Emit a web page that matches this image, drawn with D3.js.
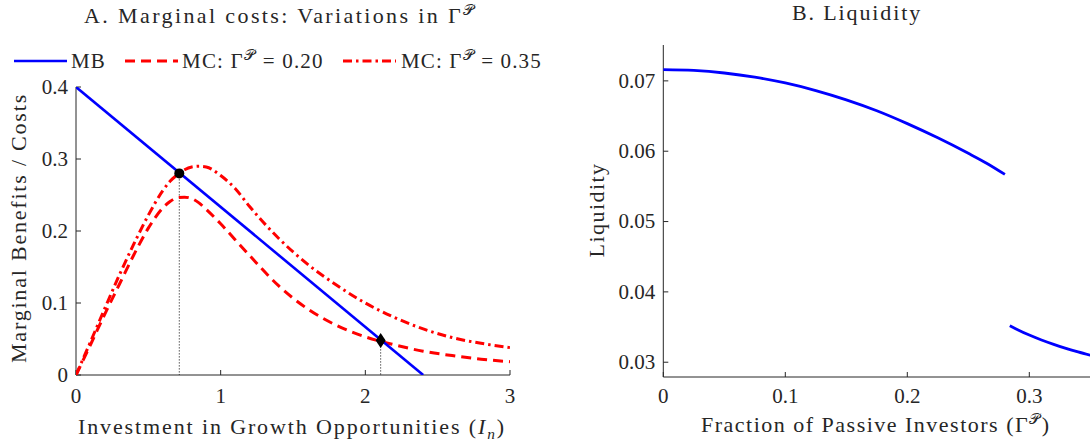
<!DOCTYPE html>
<html>
<head>
<meta charset="utf-8">
<script src="https://cdn.jsdelivr.net/npm/d3@7"></script>
<style>
  body { margin: 0; background: #fff; }
  svg text { font-family: "Liberation Serif", "DejaVu Serif", serif; fill: #262626; }
</style>
</head>
<body>
<script>
// ---- panel A: marginal benefits / costs ----
var invest = [0, 0.1, 0.2, 0.3, 0.4, 0.5, 0.6, 0.65, 0.7, 0.75, 0.8, 0.85, 0.9, 1.0, 1.1, 1.2, 1.4, 1.6, 1.8, 2.0, 2.2, 2.4, 2.6, 2.8, 3.0];
var mcLow  = [0, 0.042, 0.085, 0.126, 0.167, 0.204, 0.232, 0.241, 0.246, 0.247, 0.245, 0.239, 0.230, 0.210, 0.188, 0.166, 0.124, 0.092, 0.069, 0.053, 0.042, 0.033, 0.027, 0.022, 0.0185];
var mcHigh = [0, 0.046, 0.093, 0.139, 0.182, 0.222, 0.256, 0.269, 0.278, 0.285, 0.289, 0.290, 0.289, 0.277, 0.259, 0.234, 0.190, 0.154, 0.125, 0.100, 0.080, 0.064, 0.052, 0.044, 0.038];
var mbX = [0, 2.4];
var mbY = [0.4, 0];
var eqX = [0.714, 2.106];
var eqY = [0.280, 0.048];
var ticksAx = [0, 1, 2, 3];
var ticksAy = [0, 0.1, 0.2, 0.3, 0.4];

// ---- panel B: liquidity ----
var gammaA = [0, 0.025, 0.05, 0.075, 0.1, 0.125, 0.15, 0.175, 0.2, 0.225, 0.25, 0.265, 0.28];
var liqA   = [0.0716, 0.07148, 0.07112, 0.07053, 0.0697, 0.06862, 0.0673, 0.06575, 0.06392, 0.0619, 0.0597, 0.0583, 0.0567];
var gammaB = [0.284, 0.29, 0.30, 0.31, 0.32, 0.33, 0.34, 0.35];
var liqB   = [0.0352, 0.03466, 0.03386, 0.03316, 0.03254, 0.03198, 0.03147, 0.031];
var ticksBx = [0, 0.1, 0.2, 0.3];
var ticksBy = [0.03, 0.04, 0.05, 0.06, 0.07];

var W = 1090, H = 445;
var FONT = '"Liberation Serif", "DejaVu Serif", serif';
var svg = d3.select("body").append("svg").attr("width", W).attr("height", H);

var xA = d3.scaleLinear().domain([0, 3]).range([76, 510]);
var yA = d3.scaleLinear().domain([0, 0.4]).range([375, 87]);
var xB = d3.scaleLinear().domain([0, 0.35]).range([663.3, 1090.3]);
var yB = d3.scaleLinear().domain([0.0279, 0.0751]).range([377, 45]);

var fmt = function (d) { return d === 0 ? "0" : String(+d.toFixed(2)); };

function drawAxes(x, y, tx, ty, padX) {
  var gx = svg.append("g").attr("transform", "translate(0," + y.range()[0] + ")")
    .call(d3.axisBottom(x).tickValues(tx).tickFormat(fmt).tickSizeInner(-5).tickSizeOuter(0).tickPadding(padX).offset(0));
  var gy = svg.append("g").attr("transform", "translate(" + x.range()[0] + ",0)")
    .call(d3.axisLeft(y).tickValues(ty).tickFormat(fmt).tickSizeInner(-5).tickSizeOuter(0).tickPadding(8).offset(0));
  [gx, gy].forEach(function (g) {
    g.attr("font-family", FONT).attr("font-size", 21);
    g.select(".domain").attr("stroke", "#262626");
    g.selectAll(".tick line").attr("stroke", "#262626");
    g.selectAll("text").attr("fill", "#262626");
  });
}
drawAxes(xA, yA, ticksAx, ticksAy, 13);
drawAxes(xB, yB, ticksBx, ticksBy, 11);

// clip regions
var defs = svg.append("defs");
defs.append("clipPath").attr("id", "clipA").append("rect")
  .attr("x", 76).attr("y", 87).attr("width", 434).attr("height", 288);
defs.append("clipPath").attr("id", "clipB").append("rect")
  .attr("x", 663).attr("y", 45).attr("width", 430).attr("height", 332);

function pairs(xs, ys) { return xs.map(function (v, i) { return [v, ys[i]]; }); }

var lineA = d3.line().x(function (d) { return xA(d[0]); }).y(function (d) { return yA(d[1]); }).curve(d3.curveMonotoneX);
var lineB = d3.line().x(function (d) { return xB(d[0]); }).y(function (d) { return yB(d[1]); }).curve(d3.curveMonotoneX);

var pA = svg.append("g").attr("clip-path", "url(#clipA)");

// dotted drop lines at the intersections
eqX.forEach(function (v, i) {
  pA.append("line").attr("x1", xA(v)).attr("x2", xA(v)).attr("y1", yA(eqY[i])).attr("y2", yA(0))
    .attr("stroke", "#000").attr("stroke-width", 1).attr("stroke-dasharray", "1,2");
});

pA.append("path").datum(pairs(invest, mcLow)).attr("d", lineA)
  .attr("fill", "none").attr("stroke", "#ff0000").attr("stroke-width", 3).attr("stroke-dasharray", "10,6");
pA.append("path").datum(pairs(invest, mcHigh)).attr("d", lineA)
  .attr("fill", "none").attr("stroke", "#ff0000").attr("stroke-width", 3).attr("stroke-dasharray", "9,4,2.5,4");
pA.append("path").datum(pairs(mbX, mbY)).attr("d", d3.line().x(function (d) { return xA(d[0]); }).y(function (d) { return yA(d[1]); }))
  .attr("fill", "none").attr("stroke", "#0000ff").attr("stroke-width", 2.6);

// markers
svg.append("circle").attr("cx", xA(eqX[0])).attr("cy", yA(eqY[0])).attr("r", 5).attr("fill", "#000");
svg.append("path").attr("transform", "translate(" + xA(eqX[1]) + "," + yA(eqY[1]) + ")")
  .attr("d", "M0,-7.5L5,0L0,7.5L-5,0Z").attr("fill", "#000");

var pB = svg.append("g").attr("clip-path", "url(#clipB)");
[[gammaA, liqA], [gammaB, liqB]].forEach(function (s) {
  pB.append("path").datum(pairs(s[0], s[1])).attr("d", lineB)
    .attr("fill", "none").attr("stroke", "#0000ff").attr("stroke-width", 2.8);
});

// ---- text helpers ----
// parts: [string, kind] where kind is "", "i" (italic), "sup", "sub", "after"
function label(x, y, parts, size, width, rotate, anchor) {
  var t = svg.append("text").attr("x", x).attr("y", y)
    .style("font-family", FONT).style("font-size", size + "px")
    .attr("text-anchor", anchor || "start");
  if (rotate) t.attr("transform", "rotate(-90," + x + "," + y + ")");
  parts.forEach(function (p) {
    var s = t.append("tspan").text(p[0]);
    if (p[1] === "i") s.style("font-style", "italic");
    if (p[1] === "sup") s.style("font-size", (size * 0.7) + "px").attr("dy", -size * 0.38);
    if (p[1] === "sub") s.style("font-size", (size * 0.7) + "px").style("font-style", "italic").attr("dy", size * 0.22);
    if (p[1] === "after") s.attr("dy", p[2]);
  });
  if (width) {
    var n = parts.reduce(function (a, p) { return a + p[0].length; }, 0);
    var cur = t.node().getComputedTextLength();
    t.style("letter-spacing", ((width - cur) / n) + "px");
  }
  return t;
}

var P = "\uD835\uDCAB"; // script capital P

label(84, 23, [["A. Marginal costs: Variations in \u0393", ""], [P, "sup"]], 22, 395);
label(792, 20, [["B. Liquidity", ""]], 22, 130);

label(78, 434, [["Investment in Growth Opportunities (", ""], ["I", "i"], ["n", "sub"], [")", "after", -22 * 0.22]], 22, 428);
label(701, 432, [["Fraction of Passive Investors (\u0393", ""], [P, "sup"], [")", "after", 22 * 0.38]], 22, 351);

label(26, 228, [["Marginal Benefits / Costs", ""]], 22, 270, true, "middle");
label(604, 210, [["Liquidity", ""]], 22, 95, true, "middle");

// ---- legend ----
var legendY = 61;
var leg = [
  { x0: 14, x1: 67, dash: null, tx: 71, parts: [["MB", ""]], w: 35 },
  { x0: 125, x1: 178, dash: "10,6", tx: 182, parts: [["MC: \u0393", ""], [P, "sup"], [" = 0.20", "after", 21 * 0.38]], w: 143 },
  { x0: 343, x1: 396, dash: "9,4,2.5,4", tx: 401, parts: [["MC: \u0393", ""], [P, "sup"], [" = 0.35", "after", 21 * 0.38]], w: 142 }
];
leg.forEach(function (l, i) {
  svg.append("line").attr("x1", l.x0).attr("x2", l.x1).attr("y1", legendY).attr("y2", legendY)
    .attr("stroke", i === 0 ? "#0000ff" : "#ff0000").attr("stroke-width", i === 0 ? 2.6 : 3)
    .attr("stroke-dasharray", l.dash);
  label(l.tx, legendY + 7, l.parts, 21, l.w);
});
</script>
</body>
</html>
